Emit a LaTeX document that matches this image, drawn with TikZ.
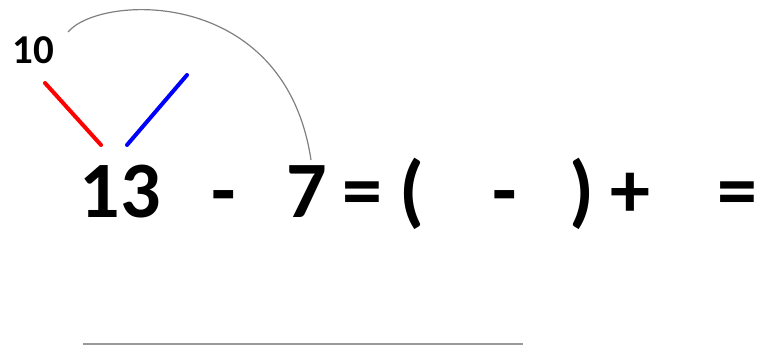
\documentclass[tikz,border=0pt]{standalone}
\usepackage{fontspec}
\setmainfont{Carlito}
\usepackage{tikz}
\usetikzlibrary{positioning}

\tikzset{
    big/.style={font=\fontsize{80}{80}\selectfont\bfseries, inner sep=0pt, anchor=base},
    small/.style={font=\fontsize{41}{41}\selectfont\bfseries, inner sep=0pt, anchor=base},
    split/.style={line width=4pt, line cap=round}
}

\begin{document}
\begin{tikzpicture}[x=1pt, y=-1pt]

    \useasboundingbox (0,0) rectangle (759,355);

    % Equation
    \node[big] (thirteen) at (120,218) {13};
    \node[big] (minusA) at (224,218) {-};
    \node[big] (seven) at (307,218) {7};
    \node[big] (eqA) at (362,218) {=};
    \node[big] (lpar) at (412,218) {(};
    \node[big] (minusB) at (505,218) {-};
    \node[big] (rpar) at (582,218) {)};
    \node[big] (plus) at (630,218) {+};
    \node[big] (eqB) at (737,218) {=};

    % Splitting 13
    \node[small] (ten) at (33,64) {10};
    \coordinate (redtop) at (45,83);
    \coordinate (redbot) at (101,145);
    \coordinate (bluebot) at (127,145);
    \coordinate (bluetop) at (187,75);
    \draw[split, red] (redtop) -- (redbot);
    \draw[split, blue] (bluebot) -- (bluetop);

    % Arc from 10 to 7
    \coordinate (arcstart) at (68,32);
    \coordinate (arcend) at (311,160);
    \draw[gray, line width=1.2pt] (arcstart) .. controls (100,-6) and (285,-14) .. (arcend);

    % Answer line
    \coordinate (lineL) at (83,344);
    \coordinate (lineR) at (523,344);
    \draw[gray!80, line width=2.5pt] (lineL) -- (lineR);

\end{tikzpicture}
\end{document}
